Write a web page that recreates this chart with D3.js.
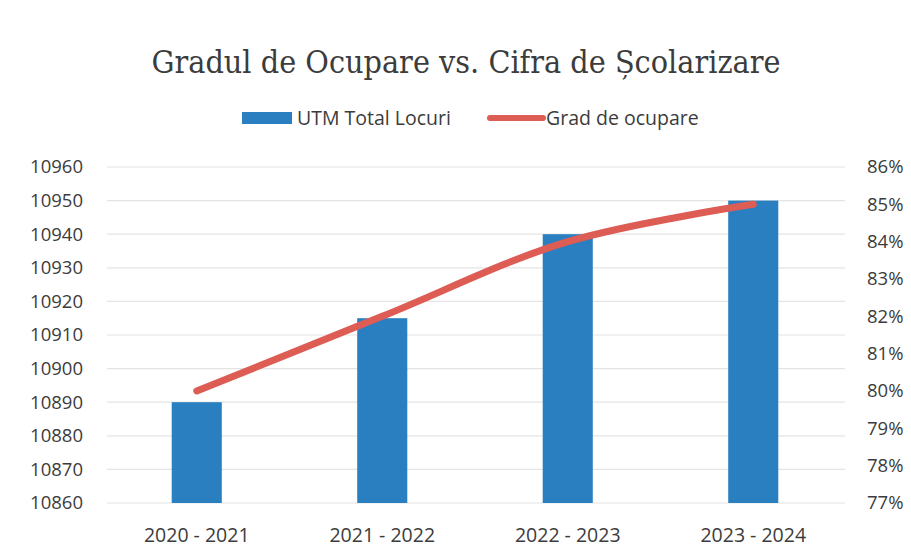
<!DOCTYPE html>
<html>
<head>
<meta charset="utf-8">
<script src="https://cdn.jsdelivr.net/npm/d3@7"></script>
<style>
  body { margin: 0; background: #fff; }
</style>
</head>
<body>
<div id="chart"></div>
<script>
const years = ['2020 - 2021', '2021 - 2022', '2022 - 2023', '2023 - 2024'];
const locuri = [10890, 10915, 10940, 10950];
const ocupare = [80, 82, 84, 85];
const leftTicks = [10860, 10870, 10880, 10890, 10900, 10910, 10920, 10930, 10940, 10950, 10960];
const rightTicks = [77, 78, 79, 80, 81, 82, 83, 84, 85, 86];

const W = 911, H = 560;
const plot = {left: 104, right: 846, top: 167, bottom: 503};
const barColor = '#2a7fc1', lineColor = '#dd5c54', textColor = '#3c3c3c';
const font = '"Open Sans", sans-serif';

const svg = d3.select('#chart')
  .append('svg')
    .attr('width', W)
    .attr('height', H);

let x = d3.scaleBand()
      .domain(years)
      .range([plot.left, plot.right])
      .paddingInner(0.73)
      .paddingOuter(0.365),
    yL = d3.scaleLinear()
      .domain([10860, 10960])
      .range([plot.bottom, plot.top]),
    yR = d3.scaleLinear()
      .domain([77, 86])
      .range([plot.bottom, plot.top]);

// gridlines
svg.append('g')
  .selectAll('line')
  .data(leftTicks)
  .enter()
    .append('line')
      .attr('x1', 107)
      .attr('x2', 845)
      .attr('y1', d => yL(d))
      .attr('y2', d => yL(d))
      .attr('stroke', '#e4e4e4')
      .attr('stroke-width', 1.2);

// left axis
let leftAxis = d3.axisLeft(yL)
  .tickValues(leftTicks)
  .tickSize(0)
  .tickPadding(0)
  .tickFormat(d => d);
svg.append('g')
  .attr('transform', 'translate(83,0)')
  .call(leftAxis)
  .call(g => g.select('.domain').remove())
  .selectAll('text')
    .style('font-family', font)
    .style('font-size', '18.5px')
    .attr('fill', textColor);

// right axis
let rightAxis = d3.axisRight(yR)
  .tickValues(rightTicks)
  .tickSize(0)
  .tickPadding(0)
  .tickFormat(d => d + '%');
svg.append('g')
  .attr('transform', 'translate(867,0)')
  .call(rightAxis)
  .call(g => g.select('.domain').remove())
  .selectAll('text')
    .style('font-family', font)
    .style('font-size', '18.5px')
    .attr('fill', textColor);

// x axis
let xAxis = d3.axisBottom(x).tickSize(0).tickPadding(0);
svg.append('g')
  .attr('transform', 'translate(0,' + (plot.bottom + 25) + ')')
  .call(xAxis)
  .call(g => g.select('.domain').remove())
  .selectAll('text')
    .style('font-family', font)
    .style('font-size', '19.5px')
    .attr('fill', textColor);

// bars
svg.append('g')
  .selectAll('rect')
  .data(years)
  .enter()
    .append('rect')
      .attr('x', d => x(d))
      .attr('width', x.bandwidth())
      .attr('y', (d, i) => yL(locuri[i]))
      .attr('height', (d, i) => yL(10860) - yL(locuri[i]))
      .attr('fill', barColor);

// line
let line = d3.line()
  .x((d, i) => x(years[i]) + x.bandwidth() / 2)
  .y(d => yR(d))
  .curve(d3.curveCatmullRom.alpha(0.5));
svg.append('path')
  .datum(ocupare)
  .attr('d', line)
  .attr('fill', 'none')
  .attr('stroke', lineColor)
  .attr('stroke-width', 7)
  .attr('stroke-linecap', 'round');

// title
svg.append('text')
  .attr('x', 466)
  .attr('y', 73)
  .attr('text-anchor', 'middle')
  .attr('textLength', 629)
  .attr('lengthAdjust', 'spacingAndGlyphs')
  .style('font-family', '"DejaVu Serif", serif')
  .style('font-size', '31px')
  .attr('fill', textColor)
  .text('Gradul de Ocupare vs. Cifra de Școlarizare');

// legend
svg.append('rect')
  .attr('x', 242)
  .attr('y', 112)
  .attr('width', 50)
  .attr('height', 12)
  .attr('fill', barColor);
svg.append('text')
  .attr('x', 297)
  .attr('y', 125)
  .style('font-family', font)
  .style('font-size', '19.5px')
  .attr('fill', textColor)
  .text('UTM Total Locuri');
svg.append('line')
  .attr('x1', 490)
  .attr('x2', 543)
  .attr('y1', 118)
  .attr('y2', 118)
  .attr('stroke', lineColor)
  .attr('stroke-width', 6)
  .attr('stroke-linecap', 'round');
svg.append('text')
  .attr('x', 546)
  .attr('y', 125)
  .style('font-family', font)
  .style('font-size', '19.5px')
  .attr('fill', textColor)
  .text('Grad de ocupare');
</script>
</body>
</html>
